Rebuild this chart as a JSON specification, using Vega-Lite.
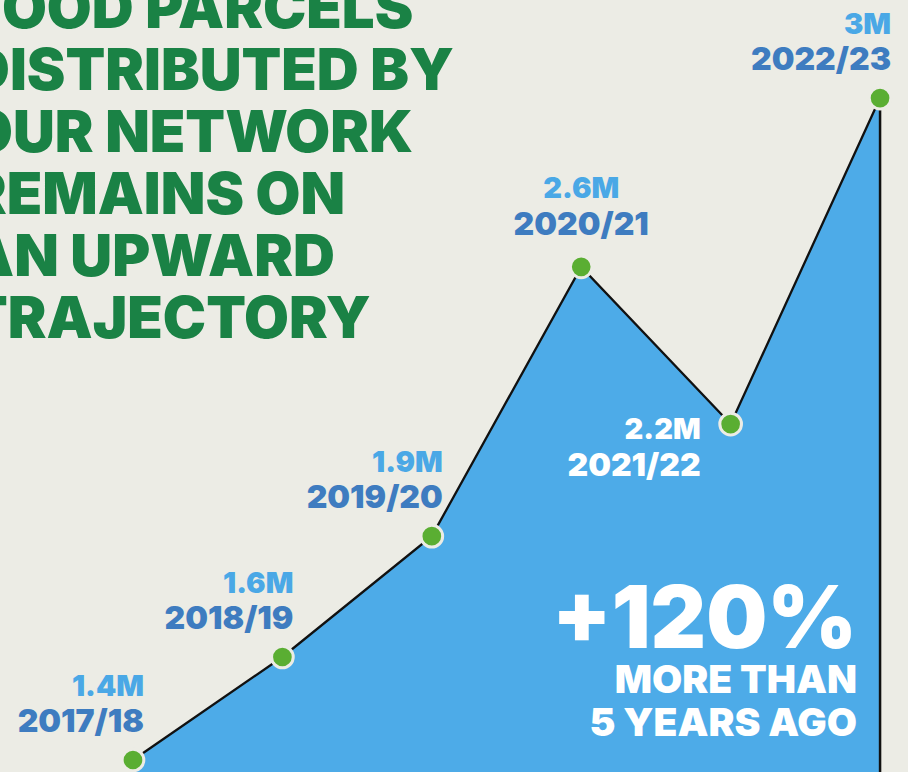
{
  "$schema": "https://vega.github.io/schema/vega-lite/v6.json",
  "width": 908,
  "height": 772,
  "autosize": {"type": "none"},
  "padding": 0,
  "background": "#ecece5",
  "config": {"view": {"stroke": null}, "text": {"font": "Inter", "fontWeight": 900}},
  "data": {"values": [
    {"i": 0, "year": "2017/18", "value": 1.4, "label": "1.4M"},
    {"i": 1, "year": "2018/19", "value": 1.649, "label": "1.6M"},
    {"i": 2, "year": "2019/20", "value": 1.941, "label": "1.9M"},
    {"i": 3, "year": "2020/21", "value": 2.592, "label": "2.6M"},
    {"i": 4, "year": "2021/22", "value": 2.212, "label": "2.2M"},
    {"i": 5, "year": "2022/23", "value": 3.0, "label": "3M"}
  ]},
  "layer": [
    {"mark": {"type": "area", "color": "#4dabe8", "clip": true}, "encoding": {
      "x": {"field": "i", "type": "quantitative", "axis": null, "scale": {"domain": [-0.89, 5.187], "nice": false, "zero": false}},
      "y": {"field": "value", "type": "quantitative", "axis": null, "scale": {"domain": [1.371, 3.237], "zero": false, "nice": false}},
      "y2": {"datum": 1.3}}},
    {"mark": {"type": "line", "color": "#111111", "strokeWidth": 2.3}, "encoding": {"x": {"field": "i", "type": "quantitative"}, "y": {"field": "value", "type": "quantitative"}}},
    {"transform": [{"filter": "datum.i == 5"}], "mark": {"type": "rule", "color": "#111111", "strokeWidth": 2.5, "clip": true}, "encoding": {"x": {"field": "i", "type": "quantitative"}, "y": {"field": "value", "type": "quantitative"}, "y2": {"datum": 1.3}}},
    {"mark": {"type": "point", "filled": true, "size": 470, "color": "#5aae32", "stroke": "#ecece5", "strokeWidth": 3, "opacity": 1, "strokeOpacity": 1}, "encoding": {"x": {"field": "i", "type": "quantitative"}, "y": {"field": "value", "type": "quantitative"}}},
    {"transform": [{"filter": "datum.i == 0 || datum.i == 1 || datum.i == 2 || datum.i == 5"}], "mark": {"type": "text", "align": "right", "baseline": "middle", "dx": 11, "dy": -73, "fontSize": 29, "color": "#4aa8e6"}, "encoding": {"x": {"field": "i", "type": "quantitative"}, "y": {"field": "value", "type": "quantitative"}, "text": {"field": "label"}}},
    {"transform": [{"filter": "datum.i == 0 || datum.i == 1 || datum.i == 2 || datum.i == 5"}], "mark": {"type": "text", "align": "right", "baseline": "middle", "dx": 11, "dy": -38, "fontSize": 32, "color": "#3e7cc0"}, "encoding": {"x": {"field": "i", "type": "quantitative"}, "y": {"field": "value", "type": "quantitative"}, "text": {"field": "year"}}},
    {"transform": [{"filter": "datum.i == 3"}], "mark": {"type": "text", "align": "center", "baseline": "middle", "dy": -78, "fontSize": 29, "color": "#4aa8e6"}, "encoding": {"x": {"field": "i", "type": "quantitative"}, "y": {"field": "value", "type": "quantitative"}, "text": {"field": "label"}}},
    {"transform": [{"filter": "datum.i == 3"}], "mark": {"type": "text", "align": "center", "baseline": "middle", "dy": -42, "fontSize": 32, "color": "#3e7cc0"}, "encoding": {"x": {"field": "i", "type": "quantitative"}, "y": {"field": "value", "type": "quantitative"}, "text": {"field": "year"}}},
    {"transform": [{"filter": "datum.i == 4"}], "mark": {"type": "text", "align": "right", "baseline": "middle", "dx": -30, "dy": 6, "fontSize": 29, "color": "#ffffff"}, "encoding": {"x": {"field": "i", "type": "quantitative"}, "y": {"field": "value", "type": "quantitative"}, "text": {"field": "label"}}},
    {"transform": [{"filter": "datum.i == 4"}], "mark": {"type": "text", "align": "right", "baseline": "middle", "dx": -30, "dy": 42, "fontSize": 32, "color": "#ffffff"}, "encoding": {"x": {"field": "i", "type": "quantitative"}, "y": {"field": "value", "type": "quantitative"}, "text": {"field": "year"}}},
    {"transform": [{"filter": "datum.i == 0"}], "mark": {"type": "text", "align": "left", "baseline": "alphabetic", "fontSize": 58, "lineHeight": 62, "color": "#1a8245"}, "encoding": {"x": {"datum": -1.104, "type": "quantitative"}, "y": {"datum": 3.169, "type": "quantitative"}, "text": {"value": ["FOOD PARCELS", "DISTRIBUTED BY", "OUR NETWORK", "REMAINS ON", "AN UPWARD", "TRAJECTORY"]}}},
    {"transform": [{"filter": "datum.i == 0"}], "mark": {"type": "text", "align": "right", "baseline": "alphabetic", "fontSize": 86, "color": "#ffffff"}, "encoding": {"x": {"datum": 4.846, "type": "quantitative"}, "y": {"datum": 1.671, "type": "quantitative"}, "text": {"value": "+120%"}}},
    {"transform": [{"filter": "datum.i == 0"}], "mark": {"type": "text", "align": "right", "baseline": "alphabetic", "fontSize": 39, "color": "#ffffff"}, "encoding": {"x": {"datum": 4.846, "type": "quantitative"}, "y": {"datum": 1.562, "type": "quantitative"}, "text": {"value": "MORE THAN"}}},
    {"transform": [{"filter": "datum.i == 0"}], "mark": {"type": "text", "align": "right", "baseline": "alphabetic", "fontSize": 39, "color": "#ffffff"}, "encoding": {"x": {"datum": 4.846, "type": "quantitative"}, "y": {"datum": 1.458, "type": "quantitative"}, "text": {"value": "5 YEARS AGO"}}}
  ]
}
